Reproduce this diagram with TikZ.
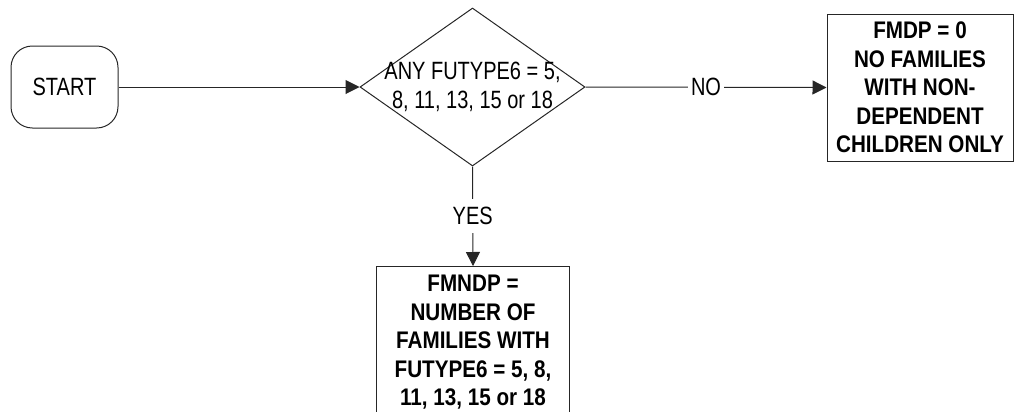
\documentclass[tikz,border=0pt]{standalone}
\usepackage{fontspec}
\setmainfont{Liberation Sans}[FakeStretch=0.8]
\newfontfamily\boldsans{Liberation Sans}[FakeStretch=0.86]
\usetikzlibrary{shapes.geometric,arrows.meta}
\begin{document}
\begin{tikzpicture}[x=0.75pt,y=-0.75pt,
 line/.style={line width=0.75pt, draw=black!85},
 arr/.style={line, -{Triangle[length=10.5pt,width=10.5pt]}},
 reg/.style={font=\fontsize{18.75}{21.4}\selectfont, align=center},
 bld/.style={font=\boldsans\fontsize{18}{21.4}\selectfont\bfseries, align=center},
 lab/.style={reg, fill=white, inner xsep=2pt, inner ysep=6pt}]
\useasboundingbox (0,0) rectangle (1014,411);
\clip (0,0) rectangle (1014,411);
\node[line, draw, rounded corners=16pt, minimum width=80.25pt, minimum height=61.5pt, reg] (start) at (64.5,87) {START};
\node[line, draw, diamond, minimum width=168.75pt, minimum height=118.5pt, inner sep=0pt] (dec) at (472.5,87) {};
\node[reg] (dectext) at (dec.center) {ANY FUTYPE6 = 5,\\8, 11, 13, 15 or 18};
\node[line, draw, bld, minimum width=139.5pt, minimum height=110.25pt, inner xsep=2pt] (nofam) at (920,87.5) {FMDP = 0\\NO FAMILIES\\WITH NON-\\DEPENDENT\\CHILDREN ONLY};
\node[bld, anchor=north, minimum width=144pt, inner ysep=6.75pt] (num) at (473,266) {FMNDP =\\NUMBER OF\\FAMILIES WITH\\FUTYPE6 = 5, 8,\\11, 13, 15 or 18};
\draw[line] ([yshift=-200pt]num.north west) -- (num.north west) -- (num.north east) -- ([yshift=-200pt]num.north east);
\draw[arr] (start.east) -- (dec.west);
\draw[arr] (dec.east) -- node[lab]{NO} (nofam.west);
\draw[arr] (dec.south) -- node[lab]{YES} (num.north);
\end{tikzpicture}
\end{document}
